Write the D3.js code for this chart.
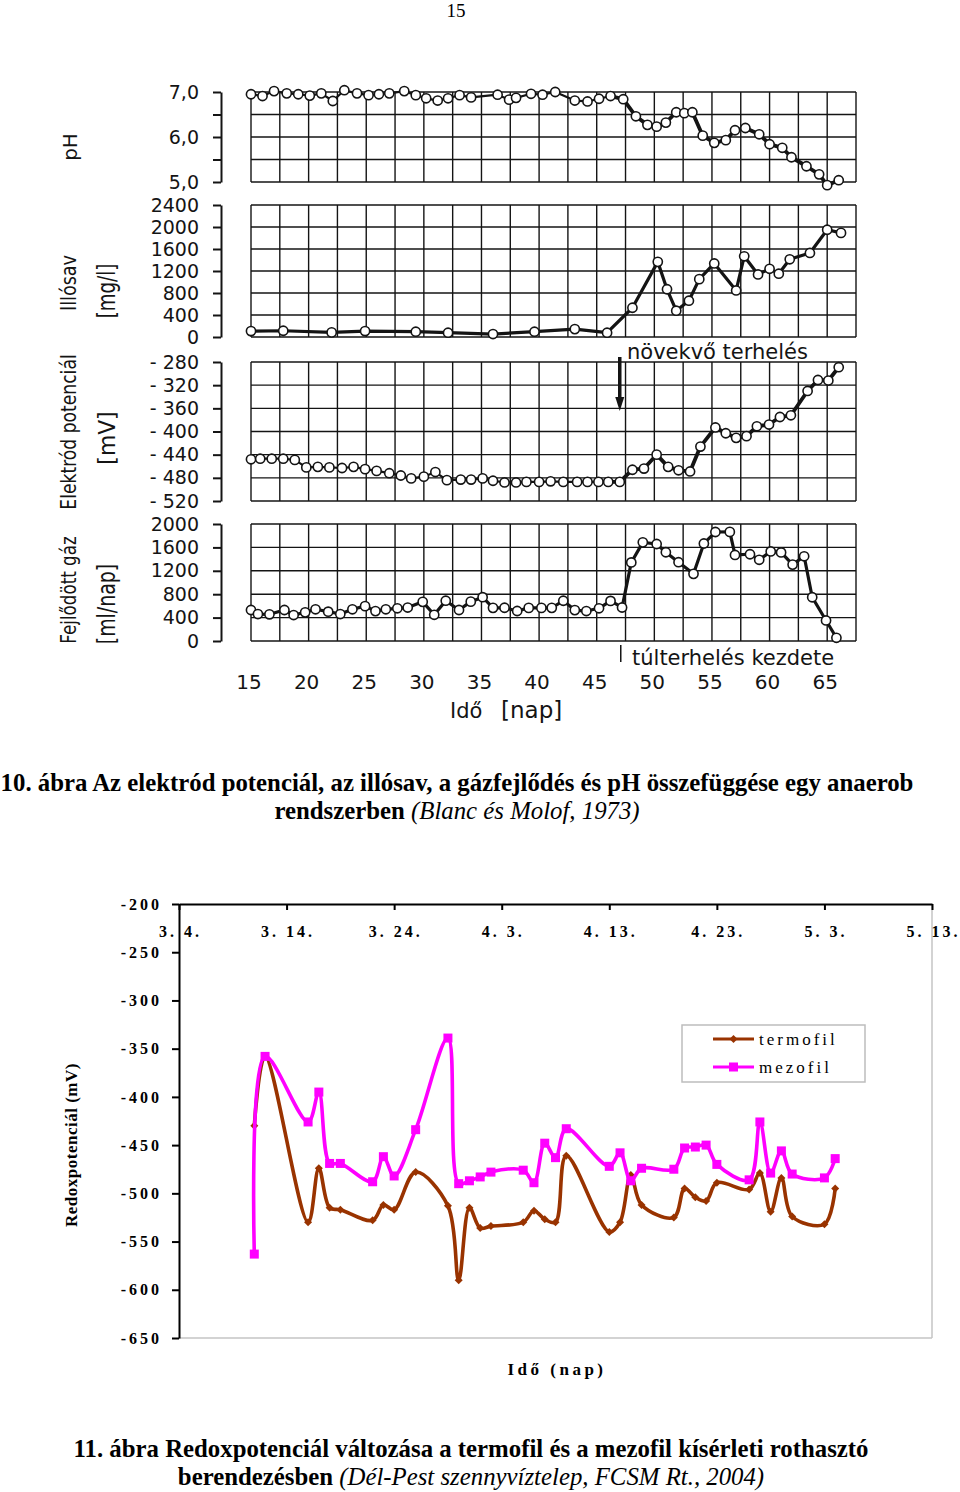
<!DOCTYPE html>
<html><head><meta charset="utf-8">
<script src="https://cdn.jsdelivr.net/npm/d3@7/dist/d3.min.js"></script>
<style>html,body{margin:0;padding:0;background:#fff;} svg{display:block}</style>
</head><body>
<svg id="page" width="960" height="1492" xmlns="http://www.w3.org/2000/svg"></svg>
<script>
// ---------- Figure 10 (Blanc & Molof) data ----------
const dayTicks = [15,20,25,30,35,40,45,50,55,60,65];
const phDays = [15,16,17,18.1,19.1,20.1,21.1,22.1,23.1,24.2,25.2,26.1,27,28.3,29.3,30.2,31.2,32.1,
  33.1,34.1,36.4,37.4,38,39.3,40.3,41.4,43.1,44.2,45.2,46.2,47.3,48.4,49.4,50.2,51,51.9,52.6,53.3,54.2,55.2,
  56.2,57,57.9,59.1,60,61.1,61.9,63.2,64.3,65,66];
const phValues = [6.95,6.91,7.02,6.97,6.95,6.92,6.97,6.80,7.04,6.97,6.93,6.95,6.97,7.02,6.93,6.86,6.81,6.86,
  6.93,6.88,6.94,6.83,6.87,6.96,6.94,7.00,6.81,6.79,6.85,6.91,6.84,6.46,6.27,6.23,6.32,6.55,6.53,6.55,6.03,5.87,
  5.93,6.15,6.20,6.06,5.84,5.76,5.55,5.35,5.17,4.93,5.04];
const acidDays = [15,17.8,22,24.9,29.3,32.1,36,39.6,43.1,45.9,48.1,50.3,51.1,51.9,53,53.9,55.2,57.1,57.8,59,60,60.8,61.75,63.5,65,66.2];
const acidValues = [108,114,84,108,96,78,54,96,144,78,532,1366,868,478,660,1052,1337,846,1467,1137,1240,1151,1413,1528,1950,1893];
const potDays = [15,15.8,16.8,17.8,18.8,19.8,20.8,21.8,22.9,23.9,24.9,25.9,27,28,28.9,30,31,32,
  33.2,34.1,35.1,36,37,38,38.9,40,41,42.1,43.3,44.2,45.15,46,47,48.1,49.1,50.2,51.2,52.1,53.1,54,55.3,56.2,57.1,58,58.9,59.95,60.9,61.85,63.3,64.2,65.1,66];
const potValues = [-448,-447,-447,-447,-449,-462,-461,-462,-463,-461,-465,-468,-472,-476,-481,-478,-470,-484,
  -483,-483,-481,-485,-488,-488,-487,-487,-486,-487,-487,-487,-487,-487,-487,-466,-464,-440,-461,-467,-469,-426,-393,-403,-411,-408,-391,-388,-375,-372,-330,-311,-312,-289];
const gasDays = [15,15.6,16.6,17.9,18.7,19.7,20.6,21.7,22.75,23.8,24.9,25.8,26.7,27.7,28.6,29.9,30.9,31.9,
  33.05,34.07,35.1,36,37,38.1,39.1,40.2,41.1,42.1,43.1,44.1,45.2,46.2,47.2,48,49,50.2,51,52.1,53.4,54.3,55.3,56.55,57,58.3,59.1,60.1,61,62,63,63.7,64.9,65.8];
const gasValues = [530,461,456,530,444,490,542,501,461,542,596,511,542,559,572,669,448,689,
  530,673,749,567,568,513,566,566,567,688,528,512,559,685,573,1343,1686,1658,1517,1347,1148,1667,1863,1865,1471,1483,1388,1531,1514,1306,1448,748,351,55];
const phTicks = [5,5.5,6,6.5,7];
const phTickLabels = ["5,0","","6,0","","7,0"];
const acidTicks = [0,400,800,1200,1600,2000,2400];
const potTicks = [-520,-480,-440,-400,-360,-320,-280];
const gasTicks = [0,400,800,1200,1600,2000];

// ---------- Figure 11 data ----------
const redoxDates = ["2004-03-11","2004-03-12","2004-03-16","2004-03-17","2004-03-18","2004-03-19","2004-03-22","2004-03-23","2004-03-24","2004-03-26",
  "2004-03-29","2004-03-30","2004-03-31","2004-04-01","2004-04-02","2004-04-05","2004-04-06","2004-04-07","2004-04-08","2004-04-09",
  "2004-04-13","2004-04-14","2004-04-15","2004-04-16","2004-04-19","2004-04-20","2004-04-21","2004-04-22","2004-04-23","2004-04-26",
  "2004-04-27","2004-04-28","2004-04-29","2004-04-30","2004-05-03","2004-05-04"];
const termofil = [-430,-358,-530,-474,-515,-517,-528,-512,-517,-478,
  -513,-590,-515,-536,-534,-530,-518,-527,-530,-461,
  -540,-530,-481,-512,-525,-495,-504,-508,-489,-496,
  -479,-519,-484,-524,-532,-495];
const mezofil = [-563,-358,-426,-395,-469,-469,-488,-462,-482,-434,
  -339,-490,-487,-483,-478,-476,-489,-448,-463,-433,
  -472,-458,-487,-474,-475,-453,-452,-450,-470,-486,
  -426,-479,-456,-480,-484,-464];
const redoxTicks = [-200,-250,-300,-350,-400,-450,-500,-550,-600,-650];
const dateTicks = ["2004-03-04","2004-03-14","2004-03-24","2004-04-03","2004-04-13","2004-04-23","2004-05-03","2004-05-13"];
const dateTickLabels = ["3. 4.","3. 14.","3. 24.","4. 3.","4. 13.","4. 23.","5. 3.","5. 13."];
const seriesNames = ["termofil","mezofil"];
const seriesColors = ["#993300","#ff00ff"];

// ================= drawing =================
const svg = d3.select("#page");
svg.append("rect").attr("width",960).attr("height",1492).attr("fill","#fff");
const SANS = "DejaVu Sans, Verdana, sans-serif";
const SERIF = "Liberation Serif, Times New Roman, serif";
const INK = "#141414";

svg.append("text").attr("x",456).attr("y",17).attr("text-anchor","middle")
  .attr("font-family",SERIF).attr("font-size",19).text("15");

// ---------- Figure 10 ----------
const g10 = svg.append("g");
const x = d3.scaleLinear().domain([15,67.5]).range([251,856]);
const gridDays = d3.range(15, 67.51, 2.5);
const panels = [
  {days:phDays, vals:phValues, ticks:phTicks, labels:phTickLabels,
   y:d3.scaleLinear().domain([5,7]).range([182,92]), grid:phTicks, split:47, w:2.2},
  {days:acidDays, vals:acidValues, ticks:acidTicks, labels:acidTicks.map(String),
   y:d3.scaleLinear().domain([0,2400]).range([337,205]), grid:acidTicks, w:3.2},
  {days:potDays, vals:potValues, ticks:potTicks, labels:potTicks.map(v=>"- "+Math.abs(v)),
   y:d3.scaleLinear().domain([-520,-280]).range([501,362]), grid:potTicks, split:47, w:2.2},
  {days:gasDays, vals:gasValues, ticks:gasTicks, labels:gasTicks.map(String),
   y:d3.scaleLinear().domain([0,2000]).range([641,524]), grid:gasTicks, w:3.2}
];

panels.forEach(p => {
  const y = p.y;
  const [yb, yt] = y.range();
  const gg = g10.append("g");
  gg.selectAll("line.v").data(gridDays).join("line")
    .attr("x1",d=>x(d)).attr("x2",d=>x(d)).attr("y1",yt).attr("y2",yb)
    .attr("stroke",INK).attr("stroke-width",1.4);
  gg.selectAll("line.h").data(p.grid).join("line")
    .attr("x1",x(15)).attr("x2",x(67.5)).attr("y1",d=>y(d)).attr("y2",d=>y(d))
    .attr("stroke",INK).attr("stroke-width",1.4);
  // bracket axis
  const ax = d3.axisLeft(y).tickValues(p.ticks).tickSize(8).tickSizeOuter(0).tickPadding(14)
    .tickFormat((d,i)=>p.labels[i]);
  const ag = g10.append("g").attr("transform","translate(221,0)").call(ax);
  ag.select(".domain").attr("stroke",INK).attr("stroke-width",2);
  ag.selectAll(".tick line").attr("stroke",INK).attr("stroke-width",2);
  ag.selectAll(".tick text").attr("font-family",SANS).attr("font-size",19).attr("fill",INK);
  // data
  const pts = p.days.map((d,i)=>({d, v:p.vals[i]}));
  const line = d3.line().x(o=>x(o.d)).y(o=>y(o.v));
  g10.append("path").attr("d",line(pts)).attr("fill","none").attr("stroke",INK)
    .attr("stroke-width",p.w).attr("stroke-linejoin","round");
  if (p.split) {
    const i0 = pts.findIndex(o=>o.d>=p.split);
    g10.append("path").attr("d",line(pts.slice(Math.max(0,i0-1)))).attr("fill","none").attr("stroke",INK)
      .attr("stroke-width",3.8).attr("stroke-linejoin","round");
  }
  g10.append("g").selectAll("circle").data(pts).join("circle")
    .attr("cx",o=>x(o.d)).attr("cy",o=>y(o.v)).attr("r",4.6)
    .attr("fill","#fff").attr("stroke",INK).attr("stroke-width",1.6);
});

// x tick labels
g10.append("g").selectAll("text").data(dayTicks).join("text")
  .attr("x",d=>x(d)-2).attr("y",689).attr("text-anchor","middle")
  .attr("font-family",SANS).attr("font-size",20).attr("fill",INK).text(d=>d);
g10.append("text").attr("x",450).attr("y",718).attr("font-family",SANS).attr("font-size",21).attr("fill",INK).text("Idő");
g10.append("text").attr("x",501).attr("y",718).attr("font-family",SANS).attr("font-size",23).attr("fill",INK).text("[nap]");

// y titles (rotated, condensed)
function vtext(cx, cy, txt, size, sx) {
  g10.append("text").attr("transform",`translate(${cx},${cy}) rotate(-90) scale(${sx},1)`)
    .attr("text-anchor","middle").attr("font-family",SANS).attr("font-size",size).attr("fill",INK).text(txt);
}
vtext(77,147,"pH",20,1);
vtext(76,283,"Illósav",22,0.8);
vtext(115,291,"[mg/l]",24,0.76);
vtext(76,432,"Elektród potenciál",22,0.78);
vtext(115,438,"[mV]",23,0.95);
vtext(76,590,"Fejlődött gáz",22,0.76);
vtext(115,604,"[ml/nap]",24,0.79);

// annotations
const xa = x(47);
g10.append("line").attr("x1",xa).attr("x2",xa).attr("y1",357).attr("y2",399).attr("stroke",INK).attr("stroke-width",3.5);
g10.append("path").attr("d",`M${xa-4.5},397 L${xa+4.5},397 L${xa},411 Z`).attr("fill",INK);
g10.append("text").attr("x",627).attr("y",359).attr("font-family",SANS).attr("font-size",21).attr("fill",INK).text("növekvő terhelés");
g10.append("line").attr("x1",xa+1).attr("x2",xa+1).attr("y1",645).attr("y2",662).attr("stroke",INK).attr("stroke-width",1.5);
g10.append("text").attr("x",632).attr("y",665).attr("font-family",SANS).attr("font-size",21).attr("fill",INK).text("túlterhelés kezdete");

// caption 10
const CAP = 24.8;
svg.append("text").attr("x",457).attr("y",791).attr("text-anchor","middle")
  .attr("font-family",SERIF).attr("font-size",CAP).attr("font-weight","bold")
  .text("10. ábra Az elektród potenciál, az illósav, a gázfejlődés és pH összefüggése egy anaerob");
const cap1b = svg.append("text").attr("x",457).attr("y",819).attr("text-anchor","middle")
  .attr("font-family",SERIF).attr("font-size",CAP);
cap1b.append("tspan").attr("font-weight","bold").text("rendszerben ");
cap1b.append("tspan").attr("font-style","italic").text("(Blanc és Molof, 1973)");

// ---------- Figure 11 ----------
const g11 = svg.append("g");
const parse = d3.timeParse("%Y-%m-%d");
const xT = d3.scaleTime().domain([parse(dateTicks[0]), parse(dateTicks[dateTicks.length-1])]).range([179,932]);
const yR = d3.scaleLinear().domain([-650,-200]).range([1338,904]);

// plot border (grey right/bottom)
g11.append("line").attr("x1",932).attr("x2",932).attr("y1",904).attr("y2",1338).attr("stroke","#c4c4c4").attr("stroke-width",1.5);
g11.append("line").attr("x1",179).attr("x2",932).attr("y1",1338).attr("y2",1338).attr("stroke","#c4c4c4").attr("stroke-width",1.5);

const yAx = d3.axisLeft(yR).tickValues(redoxTicks).tickSize(7).tickSizeOuter(0).tickPadding(10).tickFormat(d=>String(d));
const yg = g11.append("g").attr("transform","translate(179,0)").call(yAx);
yg.select(".domain").attr("stroke","#000").attr("stroke-width",2);
yg.selectAll(".tick line").attr("stroke","#000").attr("stroke-width",2);
yg.selectAll(".tick text").attr("font-family",SERIF).attr("font-weight","bold").attr("font-size",16)
  .attr("letter-spacing","3px").attr("fill","#000");

const xAx = d3.axisBottom(xT).tickValues(dateTicks.map(parse)).tickSize(6).tickSizeOuter(0).tickPadding(16)
  .tickFormat((d,i)=>dateTickLabels[i]);
const xg = g11.append("g").attr("transform","translate(0,904)").call(xAx);
xg.select(".domain").attr("stroke","#000").attr("stroke-width",2);
xg.selectAll(".tick line").attr("stroke","#000").attr("stroke-width",2);
xg.selectAll(".tick text").attr("font-family",SERIF).attr("font-weight","bold").attr("font-size",16)
  .attr("letter-spacing","3px").attr("fill","#000").attr("dx","1px");

const seriesData = [termofil, mezofil].map(vals => redoxDates.map((d,i)=>({t:parse(d), v:vals[i]})));
const rline = d3.line().x(o=>xT(o.t)).y(o=>yR(o.v)).curve(d3.curveCatmullRom.alpha(0.5));
seriesData.forEach((data, si) => {
  const col = seriesColors[si];
  g11.append("path").attr("d",rline(data)).attr("fill","none").attr("stroke",col)
    .attr("stroke-width",3.6).attr("stroke-linejoin","round");
  const mg = g11.append("g");
  if (si === 0) {
    mg.selectAll("path").data(data).join("path")
      .attr("d",o=>{const cx=xT(o.t), cy=yR(o.v); return `M${cx},${cy-4} L${cx+4},${cy} L${cx},${cy+4} L${cx-4},${cy} Z`;})
      .attr("fill",col);
  } else {
    mg.selectAll("rect").data(data).join("rect")
      .attr("x",o=>xT(o.t)-4.5).attr("y",o=>yR(o.v)-4.5).attr("width",9).attr("height",9).attr("fill",col);
  }
});

// legend
const lg = g11.append("g");
lg.append("rect").attr("x",682).attr("y",1025).attr("width",183).attr("height",57)
  .attr("fill","#fff").attr("stroke","#bdbdbd").attr("stroke-width",1.5);
seriesNames.forEach((name, i) => {
  const yy = 1039 + i*28;
  lg.append("line").attr("x1",713).attr("x2",754).attr("y1",yy).attr("y2",yy).attr("stroke",seriesColors[i]).attr("stroke-width",3.2);
  if (i === 0) lg.append("path").attr("d",`M733.5,${yy-4} L737.5,${yy} L733.5,${yy+4} L729.5,${yy} Z`).attr("fill",seriesColors[i]);
  else lg.append("rect").attr("x",729).attr("y",yy-4.5).attr("width",9).attr("height",9).attr("fill",seriesColors[i]);
  lg.append("text").attr("x",759).attr("y",yy+6).attr("font-family",SERIF).attr("font-size",17)
    .attr("letter-spacing","3px").attr("fill","#000").text(name);
});

// axis titles
g11.append("text").attr("transform","translate(77,1145) rotate(-90)").attr("text-anchor","middle")
  .attr("font-family",SERIF).attr("font-weight","bold").attr("font-size",17).attr("letter-spacing","0.5px")
  .attr("fill","#000").text("Redoxpotenciál (mV)");
g11.append("text").attr("x",557).attr("y",1375).attr("text-anchor","middle")
  .attr("font-family",SERIF).attr("font-weight","bold").attr("font-size",17).attr("letter-spacing","3.5px")
  .attr("fill","#000").text("Idő (nap)");

// caption 11
svg.append("text").attr("x",471).attr("y",1457).attr("text-anchor","middle")
  .attr("font-family",SERIF).attr("font-size",CAP).attr("font-weight","bold")
  .text("11. ábra Redoxpotenciál változása a termofil és a mezofil kísérleti rothasztó");
const cap2b = svg.append("text").attr("x",471).attr("y",1485).attr("text-anchor","middle")
  .attr("font-family",SERIF).attr("font-size",CAP);
cap2b.append("tspan").attr("font-weight","bold").text("berendezésben ");
cap2b.append("tspan").attr("font-style","italic").text("(Dél-Pest szennyvíztelep, FCSM Rt., 2004)");
</script>
</body></html>
